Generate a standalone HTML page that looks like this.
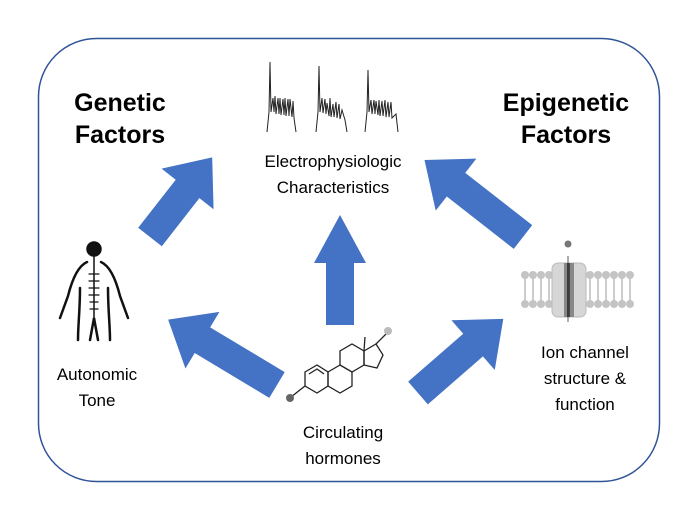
<!DOCTYPE html>
<html><head><meta charset="utf-8"><style>
html,body{margin:0;padding:0;background:#fff}
svg{display:block}
text{font-family:"Liberation Sans",sans-serif;fill:#000}
</style></head><body>
<svg width="697" height="518" viewBox="0 0 697 518" xmlns="http://www.w3.org/2000/svg">
<rect x="38.5" y="38.5" width="621" height="443" rx="58" fill="#fff" stroke="#2f5597" stroke-width="1.5"/>

<g font-weight="bold" font-size="25" text-anchor="middle">
<text x="120" y="111">Genetic</text>
<text x="120" y="143">Factors</text>
<text x="566" y="111">Epigenetic</text>
<text x="566" y="143">Factors</text>
</g>

<g font-size="17" text-anchor="middle">
<text x="333" y="167">Electrophysiologic</text>
<text x="333" y="193">Characteristics</text>
<text x="97" y="380">Autonomic</text>
<text x="97" y="406">Tone</text>
<text x="343" y="438">Circulating</text>
<text x="343" y="464">hormones</text>
<text x="585" y="358">Ion channel</text>
<text x="585" y="384">structure &amp;</text>
<text x="585" y="410">function</text>
</g>

<!-- spike traces -->
<g fill="none" stroke="#222" stroke-width="1">
<polyline points="267,132 269,112 270,62 271,112 273,98 274,112 275,96 276,114 278,98 279,114 280,98 281,115 283,99 284,115 285,98 286,116 288,99 289,116 290,99 292,117 293,101 294,118 296,132"/>
<polyline points="316,132 318,112 319,66 320,112 322,98 323,113 325,99 326,114 327,103 329,116 330,98 331,117 333,104 334,117 336,102 337,118 339,104 340,119 342,110 345,120 347,132"/>
<polyline points="365,132 367,112 368,70 369,112 371,100 372,114 374,100 375,114 376,101 378,115 379,100 380,116 382,101 383,116 385,100 386,117 388,102 389,117 391,102 392,118 396,114 398,132"/>
</g>

<!-- arrows -->
<g fill="#4472c4">
<g transform="translate(150,237) rotate(-52)"><polygon points="0,-15 61,-15 61,-33 101,0 61,33 61,15 0,15"/></g>
<g transform="translate(523,237) rotate(-142)"><polygon points="0,-15 85,-15 85,-33 125,0 85,33 85,15 0,15"/></g>
<g transform="translate(340,325) rotate(-90)"><polygon points="0,-14 62,-14 62,-26 110,0 62,26 62,14 0,14"/></g>
<g transform="translate(277,385) rotate(-149)"><polygon points="0,-15 87,-15 87,-33 127,0 87,33 87,15 0,15"/></g>
<g transform="translate(418,393) rotate(-41)"><polygon points="0,-15 73,-15 73,-33 113,0 73,33 73,15 0,15"/></g>
</g>

<!-- human figure -->
<g fill="none" stroke="#111" stroke-width="2.5" stroke-linecap="round">
<circle cx="94" cy="249" r="7" fill="#111" stroke-width="1.5"/>
<path d="M87,262 C78,266 72,280 68,296 L60,318" />
<path d="M101,262 C110,266 116,280 120,296 L128,318"/>
<path d="M80,288 C80,310 78,325 78,340"/>
<path d="M108,288 C108,310 110,325 110,340"/>
<path d="M90,340 L94,318 L98,340"/>
<path d="M94,255 L94,320" stroke-width="1.5"/>
<path d="M89,274 h10 M89,281 h10 M89,288 h10 M89,295 h10 M90,302 h8 M90,309 h8" stroke-width="1.2"/>
</g>

<!-- steroid molecule -->
<g fill="none" stroke="#222" stroke-width="1.3">
<polygon points="305,372 317,365 328,372 328,386 317,393 305,386"/>
<polyline points="309,374 317,369 324,374"/>
<polygon points="328,372 340,365 352,372 352,386 340,393 328,386"/>
<polygon points="340,365 340,351 352,344 364,351 364,365 352,372"/>
<polygon points="364,351 376,344 383,355 377,368 364,365"/>
<line x1="364" y1="351" x2="365" y2="337"/>
<line x1="376" y1="344" x2="387" y2="333"/>
<line x1="305" y1="386" x2="291" y2="397"/>
</g>
<circle cx="290" cy="398" r="4" fill="#666"/>
<circle cx="388" cy="331" r="4" fill="#bbb"/>

<!-- ion channel -->
<g>
<g stroke="#bbb" stroke-width="1.5">
<line x1="525" y1="278" x2="525" y2="302"/><line x1="533" y1="278" x2="533" y2="302"/><line x1="541" y1="278" x2="541" y2="302"/><line x1="549" y1="278" x2="549" y2="302"/>
<line x1="590" y1="278" x2="590" y2="302"/><line x1="598" y1="278" x2="598" y2="302"/><line x1="606" y1="278" x2="606" y2="302"/><line x1="614" y1="278" x2="614" y2="302"/><line x1="622" y1="278" x2="622" y2="302"/><line x1="630" y1="278" x2="630" y2="302"/>
</g>
<g fill="#c4c4c4">
<circle cx="525" cy="275" r="4"/><circle cx="533" cy="275" r="4"/><circle cx="541" cy="275" r="4"/><circle cx="549" cy="275" r="4"/>
<circle cx="590" cy="275" r="4"/><circle cx="598" cy="275" r="4"/><circle cx="606" cy="275" r="4"/><circle cx="614" cy="275" r="4"/><circle cx="622" cy="275" r="4"/><circle cx="630" cy="275" r="4"/>
<circle cx="525" cy="304" r="4"/><circle cx="533" cy="304" r="4"/><circle cx="541" cy="304" r="4"/><circle cx="549" cy="304" r="4"/>
<circle cx="590" cy="304" r="4"/><circle cx="598" cy="304" r="4"/><circle cx="606" cy="304" r="4"/><circle cx="614" cy="304" r="4"/><circle cx="622" cy="304" r="4"/><circle cx="630" cy="304" r="4"/>
</g>
<rect x="552" y="263" width="34" height="54" rx="6" fill="#d6d6d6" stroke="#bbb"/>
<rect x="564" y="263" width="10" height="54" fill="#888"/>
<rect x="567" y="263" width="3" height="54" fill="#444"/>
<line x1="568" y1="256" x2="568" y2="322" stroke="#333" stroke-width="0.8"/>
<circle cx="568" cy="244" r="3.5" fill="#777"/>
</g>
</svg>
</body></html>
